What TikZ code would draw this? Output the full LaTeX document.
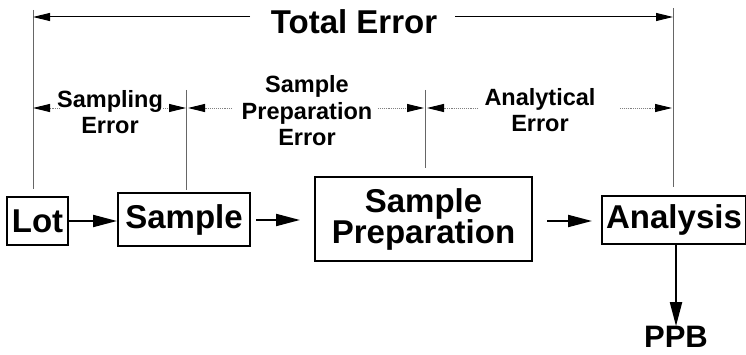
\documentclass[tikz,border=0pt]{standalone}
\usepackage{fontspec}
\setmainfont{Liberation Sans}
\usetikzlibrary{arrows.meta}
\begin{document}
\begin{tikzpicture}[x=1pt,y=-1pt,
  box/.style={draw, line width=2pt, font=\fontsize{33}{34}\selectfont\bfseries, inner sep=0pt, align=center},
  big/.style={font=\fontsize{33}{34}\selectfont\bfseries, inner sep=0pt},
  lbl/.style={font=\fontsize{23.5}{26.5}\selectfont\bfseries, align=center, inner sep=0pt},
  flow/.style={line width=2pt, -{Triangle[length=24pt,width=12pt]}},
  tot/.style={line width=1pt, -{Triangle[length=17pt,width=8pt]}},
  dimdot/.style={gray, densely dotted, line width=0.9pt, -{Triangle[length=17pt,width=8pt,color=black]}},
  vline/.style={black!60, line width=0.9pt}]
\useasboundingbox (0,0) rectangle (746,355);

% boxes
\node[box, minimum width=61pt, minimum height=48pt] (lot) at (37.5,221) {Lot};
\node[box, minimum width=132pt, minimum height=53pt] (sample) at (184,219.5) {Sample};
\node[box, minimum width=217pt, minimum height=84pt] (prep) at (423.5,219) {Sample\\[-3pt]Preparation};
\node[box, minimum width=144pt, minimum height=48pt] (analysis) at (674,220) {Analysis};
\node[big, font=\fontsize{31}{32}\selectfont\bfseries] (ppb) at (676,337) {PPB};

% flow arrows
\coordinate (s1) at (256,220);
\coordinate (s2) at (300,220);
\coordinate (p1) at (547,221);
\coordinate (p2) at (592,221);
\draw[flow] (lot.east) -- (sample.west |- lot.east);
\draw[flow] (s1) -- (s2);
\draw[flow] (p1) -- (p2);
\draw[flow] (analysis.south -| ppb) -- (ppb.north);

% vertical lines
\coordinate (vA1) at (33,10);   \coordinate (vA2) at (33,189);
\coordinate (vB1) at (186,90);  \coordinate (vB2) at (186,190);
\coordinate (vC1) at (425,90);  \coordinate (vC2) at (425,168);
\coordinate (vD1) at (673,8);   \coordinate (vD2) at (673,187);
\draw[vline] (vA1) -- (vA2);
\draw[vline] (vB1) -- (vB2);
\draw[vline] (vC1) -- (vC2);
\draw[vline] (vD1) -- (vD2);

% total error
\node[big] (total) at (354,22) {Total Error};
\coordinate (tL) at (33,17);
\coordinate (tR) at (673,17);
\coordinate (tl0) at (250,17);
\coordinate (tr0) at (455,17);
\draw[tot] (tl0) -- (tL);
\draw[tot] (tr0) -- (tR);

% sub errors
\node[lbl] (samperr) at (110,112) {Sampling\\Error};
\node[lbl] (preperr) at (307,111) {Sample\\Preparation\\Error};
\node[lbl] (anaerr) at (540,110) {Analytical\\Error};

\coordinate (a1) at (60,108);  \coordinate (a1t) at (33,108);
\coordinate (a2) at (163,108); \coordinate (a2t) at (186,108);
\coordinate (b1) at (232,108); \coordinate (b1t) at (188,108);
\coordinate (b2) at (378,108); \coordinate (b2t) at (424,108);
\coordinate (c1) at (478,108); \coordinate (c1t) at (427,108);
\coordinate (c2) at (620,108); \coordinate (c2t) at (672,108);
\draw[dimdot] (a1) -- (a1t);
\draw[dimdot] (a2) -- (a2t);
\draw[dimdot] (b1) -- (b1t);
\draw[dimdot] (b2) -- (b2t);
\draw[dimdot] (c1) -- (c1t);
\draw[dimdot] (c2) -- (c2t);
\end{tikzpicture}
\end{document}
